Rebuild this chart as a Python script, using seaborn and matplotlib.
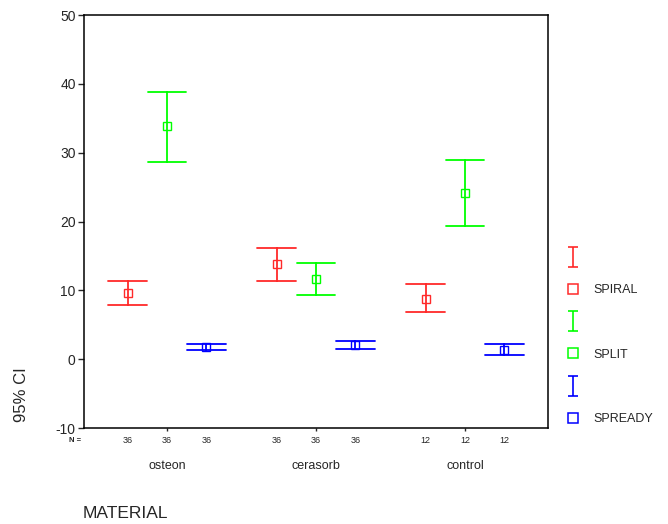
import matplotlib
matplotlib.use("Agg")
import matplotlib.pyplot as plt
import seaborn as sns
import pandas as pd
import numpy as np
from matplotlib.lines import Line2D
from matplotlib.path import Path

materials = ["osteon", "cerasorb", "control"]
series = ["SPIRAL", "SPLIT", "SPREADY"]
colors = ["#ff2a2a", "#00ff00", "#0000ff"]

# mean, lower CI, upper CI per series, per material
spiral_mean = [9.6, 13.8, 8.7]
spiral_low = [7.9, 11.3, 6.8]
spiral_high = [11.3, 16.1, 10.9]
split_mean = [33.9, 11.6, 24.1]
split_low = [28.7, 9.3, 19.3]
split_high = [38.8, 13.9, 28.9]
spready_mean = [1.8, 2.1, 1.4]
spready_low = [1.3, 1.5, 0.6]
spready_high = [2.2, 2.6, 2.2]
counts = [36, 36, 12]

means = {"SPIRAL": spiral_mean, "SPLIT": split_mean, "SPREADY": spready_mean}
lows = {"SPIRAL": spiral_low, "SPLIT": split_low, "SPREADY": spready_low}
highs = {"SPIRAL": spiral_high, "SPLIT": split_high, "SPREADY": spready_high}

rows = []
for s in series:
    for i, m in enumerate(materials):
        for v in (lows[s][i], means[s][i], highs[s][i]):
            rows.append({"MATERIAL": m, "series": s, "value": v})
df = pd.DataFrame(rows)

sns.set_style("white")
plt.rcParams["font.family"] = ["Liberation Sans", "DejaVu Sans"]
plt.rcParams["axes.unicode_minus"] = False

fig = plt.figure(figsize=(6.68, 5.24), dpi=100)
ax = fig.add_axes([84 / 668, 1 - 428 / 524, (548 - 84) / 668, (428 - 15) / 524])

DODGE = 0.53
sns.pointplot(data=df, x="MATERIAL", y="value", hue="series", order=materials,
              hue_order=series, palette=colors, estimator="median",
              errorbar=("pi", 100), dodge=DODGE, markers="s", linestyle="none",
              capsize=0.26, err_kws={"linewidth": 1.3}, markersize=6,
              markeredgewidth=1.0, legend=False, ax=ax)
for ln in ax.lines:
    ln.set_markerfacecolor("none")

ax.set_ylim(-10, 50)
ax.set_xlim(-0.557, 2.557)
ax.set_yticks([-10, 0, 10, 20, 30, 40, 50])
ax.tick_params(axis="y", direction="out", length=4, width=1, labelsize=10, pad=2, left=True)
ax.set_xticks(range(len(materials)))
ax.set_xticklabels([])
ax.tick_params(axis="x", direction="out", length=2, width=1, bottom=True)
for sp in ax.spines.values():
    sp.set_visible(True)
    sp.set_color("black")
    sp.set_linewidth(1.1)
ax.set_xlabel("")
ax.set_ylabel("")

# N counts row and category labels
offsets = [-DODGE / 2, 0, DODGE / 2]
for i, m in enumerate(materials):
    for off in offsets:
        ax.annotate(str(counts[i]), xy=(i + off, 0), xycoords=("data", "axes fraction"),
                    xytext=(0, -9), textcoords="offset points", ha="center", va="center",
                    fontsize=6.5)
    ax.annotate(m, xy=(i, 0), xycoords=("data", "axes fraction"),
                xytext=(0, -27.5), textcoords="offset points", ha="center", va="center",
                fontsize=9)
ax.annotate("N =", xy=(0, 0), xycoords="axes fraction", xytext=(-2, -9),
            textcoords="offset points", ha="right", va="center", fontsize=5.5, fontweight="bold")

fig.text(83 / 668, 1 - 513 / 524, "MATERIAL", fontsize=12.5, ha="left", va="center")
fig.text(22 / 668, 1 - 422 / 524, "95% CI", fontsize=12, rotation=90, ha="center", va="bottom")

# legend
ibar = Path([(-0.5, 1), (0.5, 1), (0, 1), (0, -1), (-0.5, -1), (0.5, -1)],
            [Path.MOVETO, Path.LINETO, Path.MOVETO, Path.LINETO, Path.MOVETO, Path.LINETO])
handles, labels = [], []
for s, c in zip(series, colors):
    handles.append(Line2D([], [], color=c, marker=ibar, markersize=14, linestyle="none",
                          markeredgewidth=1.2))
    labels.append(" ")
    handles.append(Line2D([], [], color=c, marker="s", markersize=7, linestyle="none",
                          markerfacecolor="none", markeredgewidth=1.1))
    labels.append(s)
fig.legend(handles, labels, loc="upper left", bbox_to_anchor=(567 / 668, 1 - 252 / 524),
           frameon=False, fontsize=9, labelspacing=1.62, handlelength=1.0,
           handletextpad=1.15, borderaxespad=0, borderpad=0)

fig.savefig("out.png", dpi=100)
